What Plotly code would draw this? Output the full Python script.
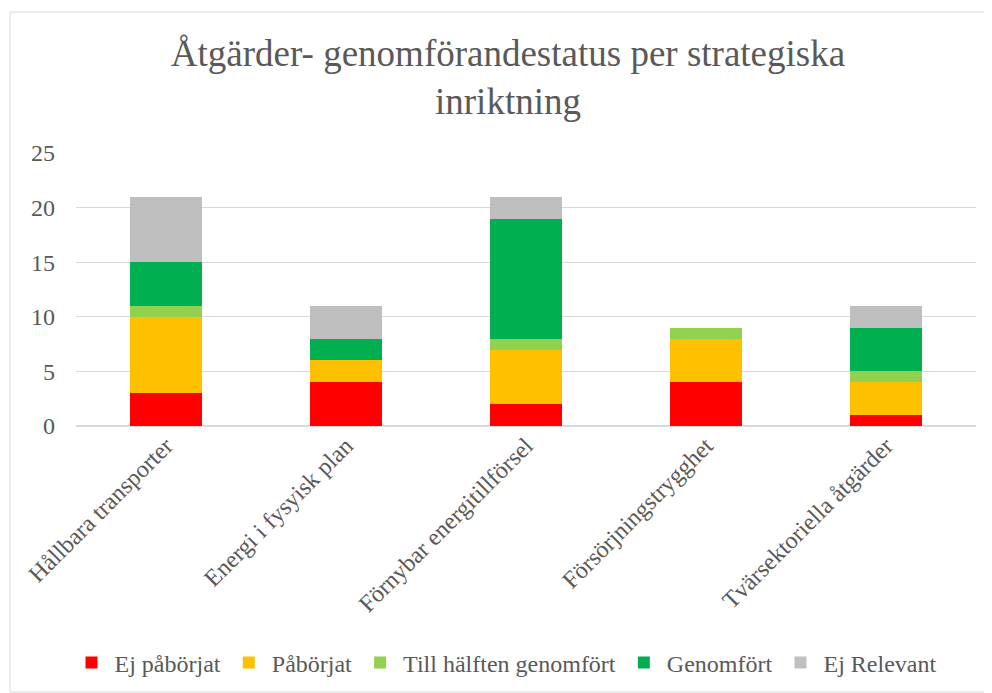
import plotly.graph_objects as go

categories = ["Hållbara transporter", "Energi i fysyisk plan", "Förnybar energitillförsel",
              "Försörjningstrygghet", "Tvärsektoriella åtgärder"]
ej_paborjat = [3, 4, 2, 4, 1]
paborjat = [7, 2, 5, 4, 3]
till_halften = [1, 0, 1, 1, 1]
genomfort = [4, 2, 11, 0, 4]
ej_relevant = [6, 3, 2, 0, 2]

series = [
    ("Ej påbörjat", ej_paborjat, "#FF0000"),
    ("Påbörjat", paborjat, "#FFC000"),
    ("Till hälften genomfört", till_halften, "#92D050"),
    ("Genomfört", genomfort, "#00B050"),
    ("Ej Relevant", ej_relevant, "#BFBFBF"),
]

fig = go.Figure()
for name, vals, col in series:
    fig.add_trace(go.Bar(x=categories, y=vals, name=name, marker_color=col,
                         marker_line_width=0))

# page body has an 8px margin; work in reference pixel coords minus offset
OFF = 8
W, H = 992 - OFF, 693 - OFF
L = 76 - OFF
T = 153 - OFF
R = W - (976 - OFF)
B = H - (426 - OFF)
pw, ph = W - L - R, H - T - B

def px2x(px):
    return (px - OFF - L) / pw

def py2y(py):
    return (H - B - (py - OFF)) / ph

FONT = "Liberation Serif, Times New Roman, serif"
fig.update_layout(
    width=W, height=H,
    barmode="stack", bargap=0.6,
    margin=dict(l=L, r=R, t=T, b=B, autoexpand=False),
    paper_bgcolor="white", plot_bgcolor="white",
    font=dict(family=FONT, color="#595959", size=24),
    title=dict(text="Åtgärder- genomförandestatus per strategiska<br>inriktning",
               x=(508 - OFF) / W, xanchor="center", y=1 - (66 - OFF) / H, yanchor="middle",
               font=dict(size=37, color="#595959", family=FONT)),
    yaxis=dict(range=[0, 25], dtick=5, showgrid=True, gridcolor="#D9D9D9", gridwidth=1,
               zeroline=True, zerolinecolor="#D9D9D9", showline=False, automargin=False,
               tickfont=dict(size=24, family=FONT), ticks="", ticklabelstandoff=20),
    xaxis=dict(tickangle=-45, tickfont=dict(size=24, family=FONT), showline=False,
               ticks="", automargin=False),
    legend=dict(orientation="h", x=px2x(505), xanchor="center", y=py2y(663), yanchor="middle",
                font=dict(size=24, family=FONT), traceorder="normal", itemwidth=36),
    shapes=[dict(type="rect", xref="paper", yref="paper",
                 x0=px2x(10), x1=px2x(991), y0=py2y(692), y1=py2y(12),
                 line=dict(color="#D9D9D9", width=1), fillcolor="rgba(0,0,0,0)", layer="below")],
)

fig.write_html("out.html")
